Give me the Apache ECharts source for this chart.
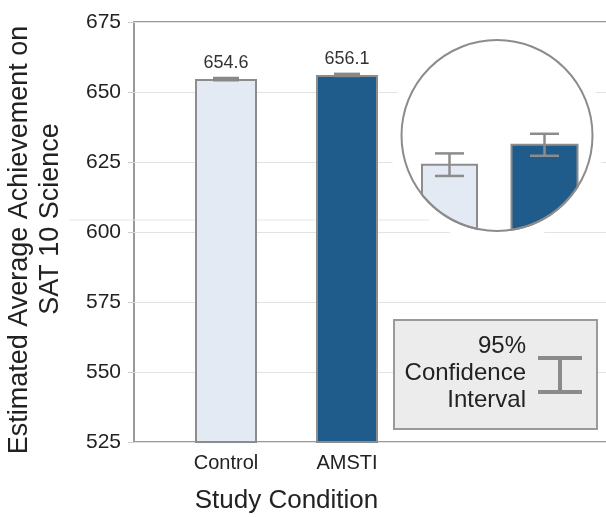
<!DOCTYPE html>
<html>
<head>
<meta charset="utf-8">
<script src="https://cdn.jsdelivr.net/npm/echarts@6/dist/echarts.min.js"></script>
<style>html,body{margin:0;padding:0;background:#fff;}#c{width:606px;height:517px;}</style>
</head>
<body>
<div id="c"></div>
<script>
const categories = ['Control', 'AMSTI'];
const means = [654.6, 656.1];
const ciLow = [653.75, 655.27];
const ciHigh = [655.45, 656.93];
const yMin = 525, yMax = 675, yStep = 25;
const insetMin = 649.6, insetMax = 664;
const legendLines = ['95%', 'Confidence', 'Interval'];

const FONT = 'Liberation Sans, Arial, sans-serif';
const barFills = ['#e3eaf3', '#1f5b8b'];
const edge = '#8c8c8c';
const insetWidths = [55, 66];

const chart = echarts.init(document.getElementById('c'), null, {renderer: 'canvas'});

function insetBars(params, api) {
  const cs = params.coordSys;
  const cx = cs.x + cs.width / 2, cy = cs.y + cs.height / 2, R = cs.height / 2;
  const i = api.value(0);
  const top = api.coord([i, api.value(1)]);
  const lo = api.coord([i, api.value(2)]);
  const hi = api.coord([i, api.value(3)]);
  const hw = insetWidths[i] / 2;
  const x0 = top[0] - hw, x1 = top[0] + hw;
  const pts = [[x0, top[1]], [x1, top[1]]];
  const N = 40;
  for (let k = 0; k <= N; k++) {
    const x = x1 - (x1 - x0) * k / N;
    const d = R * R - (x - cx) * (x - cx);
    pts.push([x, cy + Math.sqrt(Math.max(0, d))]);
  }
  const capHalf = 14.5;
  return {
    type: 'group',
    children: [
      {type: 'polygon', shape: {points: pts}, style: {fill: barFills[i], stroke: edge, lineWidth: 2}},
      {type: 'line', shape: {x1: hi[0], y1: hi[1], x2: lo[0], y2: lo[1]}, style: {stroke: edge, lineWidth: 2.5}},
      {type: 'line', shape: {x1: hi[0] - capHalf, y1: hi[1], x2: hi[0] + capHalf, y2: hi[1]}, style: {stroke: edge, lineWidth: 2.5}},
      {type: 'line', shape: {x1: lo[0] - capHalf, y1: lo[1], x2: lo[0] + capHalf, y2: lo[1]}, style: {stroke: edge, lineWidth: 2.5}}
    ]
  };
}

const option = {
  backgroundColor: '#ffffff',
  animation: false,
  grid: [
    {left: 134, right: -6, top: 22, bottom: 75, show: true, borderColor: '#999999', borderWidth: 2,
      backgroundColor: 'transparent', containLabel: false, outerBoundsMode: 'none'},
    {left: 165.5, width: 242, top: 22, bottom: 75, containLabel: false, outerBoundsMode: 'none'},
    {left: 402, width: 190, top: 40, height: 191, containLabel: false, outerBoundsMode: 'none'}
  ],
  xAxis: [
    {gridIndex: 0, type: 'value', show: false, min: 0, max: 1},
    {gridIndex: 1, type: 'category', data: categories,
      axisLine: {show: false}, axisTick: {show: false},
      axisLabel: {fontFamily: FONT, fontSize: 20, color: '#222', margin: 11},
      name: 'Study Condition', nameLocation: 'middle', nameGap: 46,
      nameTextStyle: {fontFamily: FONT, fontSize: 26, color: '#222'}},
    {gridIndex: 2, type: 'category', data: categories, show: false}
  ],
  yAxis: [
    {gridIndex: 0, type: 'value', min: yMin, max: yMax, interval: yStep,
      axisLine: {show: false},
      axisTick: {show: true, length: 6, lineStyle: {color: '#cccccc'}},
      splitLine: {show: true, lineStyle: {color: '#e2e2e2', width: 1}},
      axisLabel: {fontFamily: FONT, fontSize: 21, color: '#222', margin: 13},
      name: '{a|Estimated Average Achievement on}\n{b|SAT 10 Science}',
      nameLocation: 'middle', nameGap: 68,
      nameTextStyle: {fontFamily: FONT, fontSize: 27, color: '#222', lineHeight: 31,
        rich: {
          a: {fontFamily: FONT, fontSize: 27, color: '#222', lineHeight: 31, padding: [0, 16, 0, 0]},
          b: {fontFamily: FONT, fontSize: 27, color: '#222', lineHeight: 31, padding: [0, 0, 0, 26]}
        }}},
    {gridIndex: 1, type: 'value', min: yMin, max: yMax, interval: yStep, show: false, splitLine: {show: false}},
    {gridIndex: 2, type: 'value', min: insetMin, max: insetMax, show: false, splitLine: {show: false}}
  ],
  series: [
    {type: 'bar', xAxisIndex: 1, yAxisIndex: 1, barWidth: 62, z: 2,
      data: means.map((v, i) => ({value: v, itemStyle: {color: barFills[i], borderColor: edge, borderWidth: 2}})),
      label: {show: true, position: 'top', distance: 7, fontFamily: FONT, fontSize: 18, color: '#333',
        formatter: p => p.value.toFixed(1)}},
    {type: 'custom', xAxisIndex: 1, yAxisIndex: 1, z: 3,
      data: categories.map((c, i) => [i, ciLow[i], ciHigh[i]]),
      renderItem: (params, api) => {
        const lo = api.coord([api.value(0), api.value(1)]);
        const hi = api.coord([api.value(0), api.value(2)]);
        return {type: 'rect', shape: {x: hi[0] - 13, y: hi[1], width: 26, height: Math.max(3, lo[1] - hi[1])},
          style: {fill: '#888888'}};
      }},
    {type: 'custom', xAxisIndex: 2, yAxisIndex: 2, z: 3, silent: true,
      data: [[0]],
      renderItem: (params, api) => {
        const cs = params.coordSys;
        return {type: 'circle', shape: {cx: cs.x + cs.width / 2, cy: cs.y + cs.height / 2, r: cs.height / 2 + 12.5},
          style: {fill: '#ffffff'}};
      }},
    {type: 'custom', xAxisIndex: 2, yAxisIndex: 2, z: 4,
      data: categories.map((c, i) => [i, means[i], ciLow[i], ciHigh[i]]),
      renderItem: insetBars},
    {type: 'custom', xAxisIndex: 2, yAxisIndex: 2, z: 5, silent: true,
      data: [[0]],
      renderItem: (params, api) => {
        const cs = params.coordSys;
        return {type: 'circle', shape: {cx: cs.x + cs.width / 2, cy: cs.y + cs.height / 2, r: cs.height / 2},
          style: {fill: 'none', stroke: '#8c8c8c', lineWidth: 2}};
      }}
  ],
  graphic: [
    {type: 'line', z: 1, shape: {x1: 69, y1: 220, x2: 430, y2: 220}, style: {stroke: '#e6e6e6', lineWidth: 1}},
    {type: 'rect', z: 10, shape: {x: 394, y: 320, width: 203, height: 109},
      style: {fill: '#ececec', stroke: '#9a9a9a', lineWidth: 2}},
    {type: 'text', z: 11, x: 526, y: 333,
      style: {text: legendLines.join('\n'), fontFamily: FONT, fontSize: 24, lineHeight: 27, fill: '#222',
        textAlign: 'right', textVerticalAlign: 'top'}},
    {type: 'group', z: 11, children: [
      {type: 'line', z: 11, shape: {x1: 560, y1: 358, x2: 560, y2: 392}, style: {stroke: '#8a8a8a', lineWidth: 4}},
      {type: 'line', z: 11, shape: {x1: 538, y1: 358, x2: 582, y2: 358}, style: {stroke: '#8a8a8a', lineWidth: 4}},
      {type: 'line', z: 11, shape: {x1: 538, y1: 392, x2: 582, y2: 392}, style: {stroke: '#8a8a8a', lineWidth: 4}}
    ]}
  ]
};
chart.setOption(option);
</script>
</body>
</html>
